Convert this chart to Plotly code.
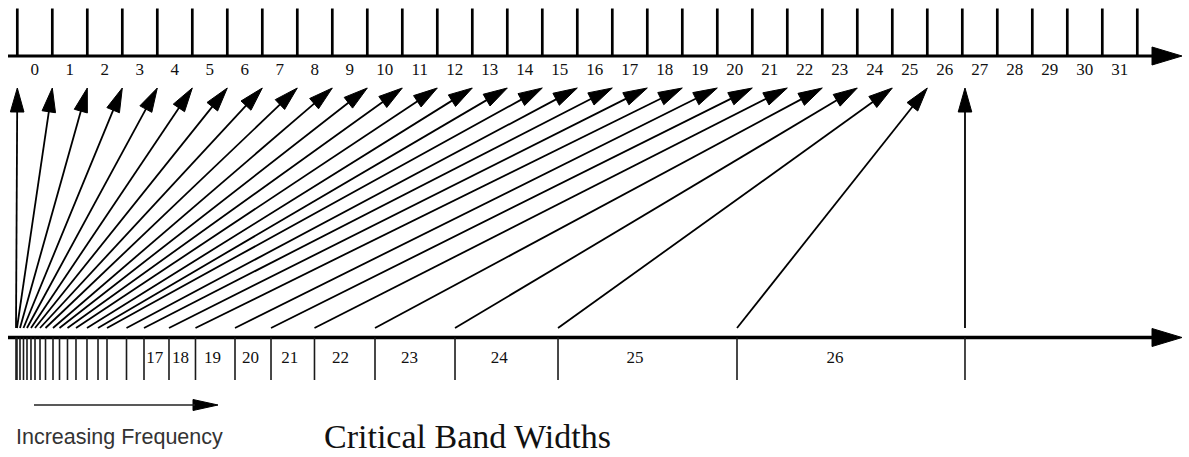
import math
import plotly.graph_objects as go

# ---------------- data ----------------
# Top (uniform) scale: tick positions 0..32 and the labels between ticks
top_tick_values = list(range(33))
top_tick_labels = [str(i) for i in range(32)]

# Bottom (critical band) edges expressed on the top scale's units (28 edges -> 27 bands 0..26)
band_edges = [-0.037, -0.009, 0.077, 0.177, 0.277, 0.391, 0.506, 0.649, 0.806,
              1.020, 1.206, 1.434, 1.677, 1.991, 2.306, 2.563, 3.120, 3.620,
              4.334, 5.091, 6.220, 7.249, 8.491, 10.220, 12.506, 15.449,
              20.563, 27.077]
# Bands that carry a number under the bottom axis
band_labels = ["17", "18", "19", "20", "21", "22", "23", "24", "25", "26"]
band_label_first_index = 17

# ---------------- geometry / style ----------------
W, H = 1189, 457
PX0, S = 17.3, 35.0          # pixel position of scale unit 0 and pixels per unit


def to_u(p):
    return (p - PX0) / S


def to_px(u):
    return PX0 + S * u


Y_TICK_TOP, Y_TOP_AXIS = 8.5, 56
Y_TOP_LABEL = 71
Y_ARROW_TIP, Y_ARROW_BASE = 88, 328
Y_BOT_AXIS = 337.5
Y_BAND_TICK_BOTTOM = 380
Y_BAND_LABEL = 359
AXIS_START_PX, AXIS_HEAD_BASE_PX, AXIS_HEAD_TIP_PX = 8, 1152, 1182

SERIF = "Liberation Serif, Times New Roman, serif"
SANS = "Liberation Sans, Arial, Helvetica, sans-serif"

fig = go.Figure()


def head(x0p, y0, x1p, y1, length, half):
    """Triangle (pixel space) for an arrow from (x0p,y0) to tip (x1p,y1)."""
    dx, dy = x1p - x0p, y1 - y0
    n = math.hypot(dx, dy)
    ux, uy = dx / n, dy / n
    bx, by = x1p - ux * length, y1 - uy * length
    px, py = -uy, ux
    pts = [(x1p, y1), (bx + px * half, by + py * half), (bx - px * half, by - py * half), (x1p, y1)]
    return pts, (bx + ux * 2, by + uy * 2)


# ---- top axis line and ticks ----
fig.add_trace(go.Scatter(x=[to_u(AXIS_START_PX), to_u(AXIS_HEAD_BASE_PX + 2)], y=[Y_TOP_AXIS, Y_TOP_AXIS],
                         mode="lines", line=dict(color="black", width=3.2), hoverinfo="skip"))
tx, ty = [], []
for t in top_tick_values:
    tx += [t, t, None]
    ty += [Y_TICK_TOP, Y_TOP_AXIS, None]
fig.add_trace(go.Scatter(x=tx, y=ty, mode="lines", line=dict(color="black", width=2.7), hoverinfo="skip"))

# top labels centred between ticks
fig.add_trace(go.Scatter(x=[i + 0.5 for i in range(len(top_tick_labels))], y=[Y_TOP_LABEL] * len(top_tick_labels),
                         mode="text", text=top_tick_labels,
                         textfont=dict(family=SERIF, size=17, color="#111"), hoverinfo="skip"))

# ---- bottom axis line and band edge ticks ----
fig.add_trace(go.Scatter(x=[to_u(AXIS_START_PX), to_u(AXIS_HEAD_BASE_PX + 2)], y=[Y_BOT_AXIS, Y_BOT_AXIS],
                         mode="lines", line=dict(color="black", width=3.5), hoverinfo="skip"))
bx_, by_ = [], []
for e in band_edges:
    bx_ += [e, e, None]
    by_ += [Y_BOT_AXIS, Y_BAND_TICK_BOTTOM, None]
fig.add_trace(go.Scatter(x=bx_, y=by_, mode="lines", line=dict(color="#1a1a1a", width=1.6), hoverinfo="skip"))

# band numbers
lab_x = []
for j, _ in enumerate(band_labels):
    k = band_label_first_index + j
    left, right = band_edges[k], band_edges[k + 1]
    lab_x.append(left + 0.43 * (right - left))
fig.add_trace(go.Scatter(x=lab_x, y=[Y_BAND_LABEL] * len(band_labels), mode="text", text=band_labels,
                         textfont=dict(family=SERIF, size=17, color="#111"), hoverinfo="skip"))

# ---- mapping arrows: band edge k -> top tick k ----
sx, sy, hx, hy = [], [], [], []
for k, e in enumerate(band_edges):
    x0p, x1p = to_px(e), to_px(top_tick_values[k])
    if k == len(band_edges) - 1:
        x1p = x0p
    pts, shaft_end = head(x0p, Y_ARROW_BASE, x1p, Y_ARROW_TIP, 24, 6.8)
    sx += [e, to_u(shaft_end[0]), None]
    sy += [Y_ARROW_BASE, shaft_end[1], None]
    for (px, py) in pts:
        hx.append(to_u(px))
        hy.append(py)
    hx.append(None)
    hy.append(None)
fig.add_trace(go.Scatter(x=sx, y=sy, mode="lines", line=dict(color="black", width=1.8), hoverinfo="skip"))
fig.add_trace(go.Scatter(x=hx, y=hy, mode="lines", fill="toself", fillcolor="black",
                         line=dict(color="black", width=1), hoverinfo="skip"))

# ---- axis arrowheads ----
ax_x, ax_y = [], []
for yy in (Y_TOP_AXIS, Y_BOT_AXIS):
    pts, _ = head(AXIS_HEAD_BASE_PX, yy, AXIS_HEAD_TIP_PX, yy, AXIS_HEAD_TIP_PX - AXIS_HEAD_BASE_PX, 9)
    for (px, py) in pts:
        ax_x.append(to_u(px))
        ax_y.append(py)
    ax_x.append(None)
    ax_y.append(None)
# increasing-frequency arrow
IF_Y, IF_X0, IF_BASE, IF_TIP = 405, 34, 193, 218
pts, _ = head(IF_BASE, IF_Y, IF_TIP, IF_Y, IF_TIP - IF_BASE, 5.5)
for (px, py) in pts:
    ax_x.append(to_u(px))
    ax_y.append(py)
fig.add_trace(go.Scatter(x=ax_x, y=ax_y, mode="lines", fill="toself", fillcolor="black",
                         line=dict(color="black", width=1), hoverinfo="skip"))
fig.add_trace(go.Scatter(x=[to_u(IF_X0), to_u(IF_BASE + 2)], y=[IF_Y, IF_Y], mode="lines",
                         line=dict(color="#222", width=1.6), hoverinfo="skip"))

# ---- captions ----
fig.add_annotation(x=to_u(14), y=437, xanchor="left", yanchor="middle", showarrow=False,
                   text="Increasing Frequency", font=dict(family=SANS, size=21.5, color="#333"))
fig.add_annotation(x=to_u(322), y=456.5, xanchor="left", yanchor="bottom", showarrow=False,
                   text="Critical Band Widths", font=dict(family=SERIF, size=34, color="#111"))

fig.update_layout(
    width=W, height=H, margin=dict(l=0, r=0, t=0, b=0),
    paper_bgcolor="white", plot_bgcolor="white", showlegend=False,
    xaxis=dict(range=[to_u(0), to_u(W)], visible=False, fixedrange=True),
    yaxis=dict(range=[H, 0], visible=False, fixedrange=True),
)

fig.write_html("out.html", config={"displayModeBar": False},
               post_script="document.body.style.margin='0px';document.body.style.overflow='hidden';")
